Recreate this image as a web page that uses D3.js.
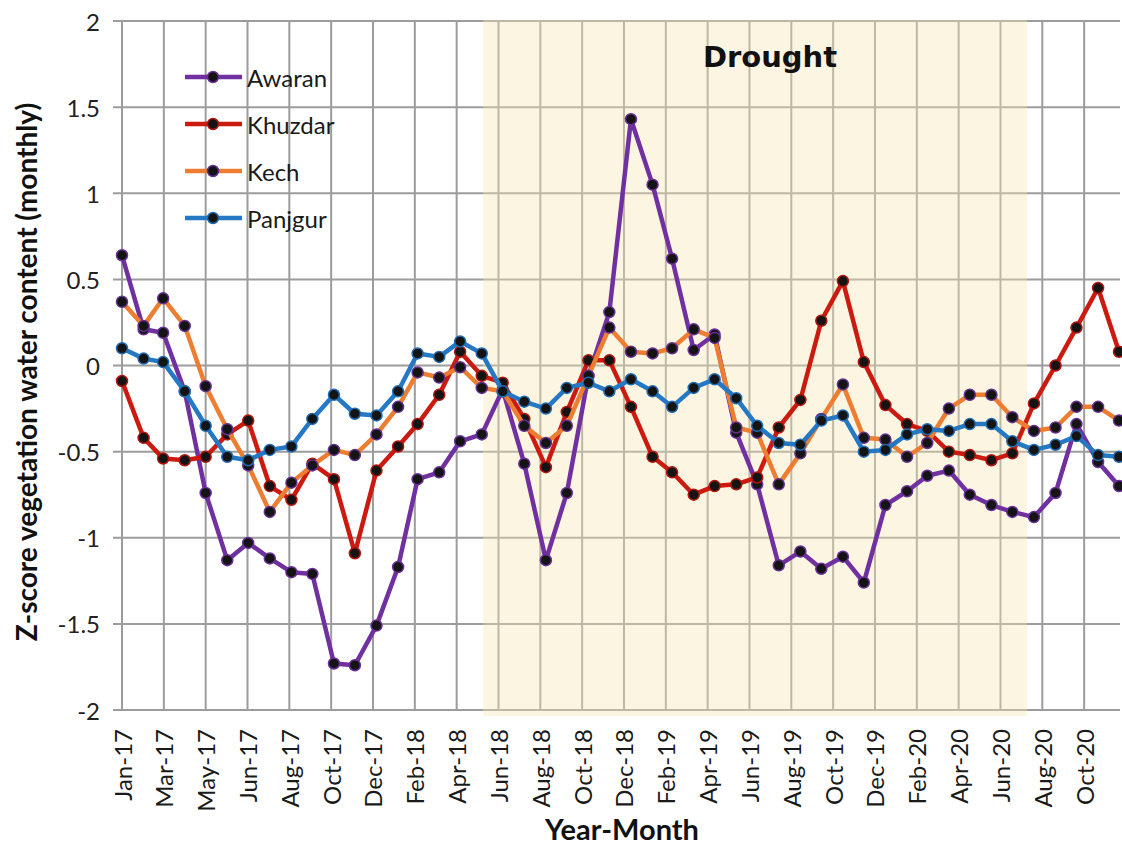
<!DOCTYPE html>
<html>
<head>
<meta charset="utf-8">
<script src="https://cdn.jsdelivr.net/npm/d3@7/dist/d3.min.js"></script>
<style>
  body { margin: 0; background: #fff; }
  svg { display: block; }
</style>
</head>
<body>
<svg id="chart"></svg>
<script>
// Z-score of vegetation water content, monthly, Jan 2017 - Dec 2020
const seriesNames = ["Awaran", "Khuzdar", "Kech", "Panjgur"];
const seriesColors = ["#7030a0", "#cc1a10", "#ed7d31", "#2478c4"];
const markerEdges = ["#6a2f9a", "#b3150c", "#62308f", "#1f6cb4"];

const awaran = [0.64, 0.21, 0.19, -0.15, -0.74, -1.13, -1.03, -1.12, -1.20, -1.21, -1.73, -1.74,
  -1.51, -1.17, -0.66, -0.62, -0.44, -0.40, -0.14, -0.57, -1.13, -0.74, -0.06, 0.31,
  1.43, 1.05, 0.62, 0.09, 0.18, -0.39, -0.69, -1.16, -1.08, -1.18, -1.11, -1.26,
  -0.81, -0.73, -0.64, -0.61, -0.75, -0.81, -0.85, -0.88, -0.74, -0.34, -0.56, -0.70];
const khuzdar = [-0.09, -0.42, -0.54, -0.55, -0.53, -0.40, -0.32, -0.70, -0.78, -0.57, -0.66, -1.09,
  -0.61, -0.47, -0.34, -0.17, 0.08, -0.06, -0.10, -0.31, -0.59, -0.27, 0.03, 0.03,
  -0.24, -0.53, -0.62, -0.75, -0.70, -0.69, -0.65, -0.36, -0.20, 0.26, 0.49, 0.02,
  -0.23, -0.34, -0.38, -0.50, -0.52, -0.55, -0.51, -0.22, 0.00, 0.22, 0.45, 0.08];
const kech = [0.37, 0.23, 0.39, 0.23, -0.12, -0.37, -0.58, -0.85, -0.68, -0.58, -0.49, -0.52,
  -0.40, -0.24, -0.04, -0.07, -0.01, -0.13, -0.15, -0.35, -0.45, -0.35, -0.06, 0.22,
  0.08, 0.07, 0.10, 0.21, 0.16, -0.36, -0.39, -0.69, -0.51, -0.31, -0.11, -0.42,
  -0.43, -0.53, -0.45, -0.25, -0.17, -0.17, -0.30, -0.38, -0.36, -0.24, -0.24, -0.32];
const panjgur = [0.10, 0.04, 0.02, -0.15, -0.35, -0.53, -0.55, -0.49, -0.47, -0.31, -0.17, -0.28,
  -0.29, -0.15, 0.07, 0.05, 0.14, 0.07, -0.15, -0.21, -0.25, -0.13, -0.10, -0.15,
  -0.08, -0.15, -0.24, -0.13, -0.08, -0.19, -0.35, -0.45, -0.46, -0.32, -0.29, -0.50,
  -0.49, -0.40, -0.37, -0.38, -0.34, -0.34, -0.44, -0.49, -0.46, -0.41, -0.52, -0.53];

const firstMonth = new Date(Date.UTC(2017, 0, 1));
const lastMonth = new Date(Date.UTC(2020, 11, 1));
const tickStepDays = 60; // excel date axis, major unit 60 days
const droughtPeriod = [new Date(Date.UTC(2018, 5, 3)), new Date(Date.UTC(2020, 6, 22))];
const yTicks = [-2, -1.5, -1, -0.5, 0, 0.5, 1, 1.5, 2];

const width = 1122, height = 849;
const plot = { left: 122, right: 1119, top: 21, bottom: 710 };

const svg = d3.select("#chart").attr("width", width).attr("height", height);

const months = d3.utcMonth.range(firstMonth, d3.utcMonth.offset(lastMonth, 1));
const tickDates = d3.range(0, d3.utcDay.count(firstMonth, lastMonth), tickStepDays)
  .map(d => d3.utcDay.offset(firstMonth, d));

const x = d3.scaleUtc().domain([firstMonth, lastMonth]).range([plot.left, plot.right]);
const y = d3.scaleLinear().domain([-2, 2]).range([plot.bottom, plot.top]);

const series = [awaran, khuzdar, kech, panjgur].map((vals, i) => ({
  name: seriesNames[i], color: seriesColors[i], edge: markerEdges[i],
  values: vals.map((v, j) => ({ date: months[j], value: v }))
}));

// grid
const grid = svg.append("g");
grid.selectAll("line.h").data(yTicks).enter().append("line")
  .attr("x1", plot.left - 9).attr("x2", plot.right + 1)
  .attr("y1", d => y(d)).attr("y2", d => y(d))
  .attr("stroke", "#9c9c9c").attr("stroke-width", 2);
grid.selectAll("line.v").data(tickDates).enter().append("line")
  .attr("x1", d => x(d)).attr("x2", d => x(d))
  .attr("y1", plot.top).attr("y2", plot.bottom)
  .attr("stroke", "#9c9c9c").attr("stroke-width", 2);

// drought shading
svg.append("rect")
  .attr("x", x(droughtPeriod[0])).attr("y", plot.top - 1)
  .attr("width", x(droughtPeriod[1]) - x(droughtPeriod[0]))
  .attr("height", plot.bottom - plot.top + 7)
  .attr("fill", "rgb(248,228,180)").attr("opacity", 0.38);

svg.append("text")
  .attr("x", 770).attr("y", 67)
  .attr("text-anchor", "middle")
  .style("font-family", "DejaVu Sans").style("font-weight", "bold").style("font-size", "29px")
  .style("fill", "#111")
  .text("Drought");

// axes labels
svg.append("g").selectAll("text").data(yTicks).enter().append("text")
  .attr("x", 100).attr("y", d => y(d))
  .attr("text-anchor", "end").attr("dominant-baseline", "central")
  .style("font-family", "Lato").style("font-size", "24px").style("fill", "#222")
  .text(d => String(d));

const fmt = d3.utcFormat("%b-%y");
svg.append("g").selectAll("text").data(tickDates).enter().append("text")
  .attr("transform", d => `translate(${x(d)},729) rotate(-90)`)
  .attr("text-anchor", "end").attr("dominant-baseline", "central")
  .style("font-family", "Lato").style("font-size", "24px").style("fill", "#1a1a1a")
  .text(d => fmt(d));

svg.append("text")
  .attr("x", 622).attr("y", 840).attr("text-anchor", "middle")
  .style("font-family", "Lato").style("font-weight", "bold").style("font-size", "29px")
  .style("fill", "#111")
  .text("Year-Month");

svg.append("text")
  .attr("transform", "translate(37,372) rotate(-90)")
  .attr("text-anchor", "middle")
  .style("font-family", "Lato").style("font-weight", "bold").style("font-size", "28px")
  .style("fill", "#111")
  .text("Z-score vegetation water content (monthly)");

// lines + markers
const line = d3.line().x(d => x(d.date)).y(d => y(d.value));
const sg = svg.selectAll("g.series").data(series).enter().append("g").attr("class", "series");
sg.append("path")
  .attr("d", d => line(d.values))
  .attr("fill", "none").attr("stroke", d => d.color).attr("stroke-width", 4.5)
  .attr("stroke-linejoin", "round");
sg.each(function(s) {
  d3.select(this).selectAll("circle").data(s.values).enter().append("circle")
    .attr("cx", d => x(d.date)).attr("cy", d => y(d.value)).attr("r", 5.5)
    .attr("fill", "#141414").attr("stroke", s.edge).attr("stroke-width", 1.5);
});

// legend
const legend = svg.append("g").selectAll("g").data(series).enter().append("g")
  .attr("transform", (d, i) => `translate(0,${77 + i * 47})`);
legend.append("line").attr("x1", 185).attr("x2", 242)
  .attr("stroke", d => d.color).attr("stroke-width", 4.5);
legend.append("circle").attr("cx", 213).attr("r", 5.5)
  .attr("fill", "#141414").attr("stroke", d => d.edge).attr("stroke-width", 1.5);
legend.append("text").attr("x", 247).attr("dominant-baseline", "central")
  .style("font-family", "Lato").style("font-size", "24px").style("fill", "#1a1a1a")
  .text(d => d.name);
</script>
</body>
</html>
